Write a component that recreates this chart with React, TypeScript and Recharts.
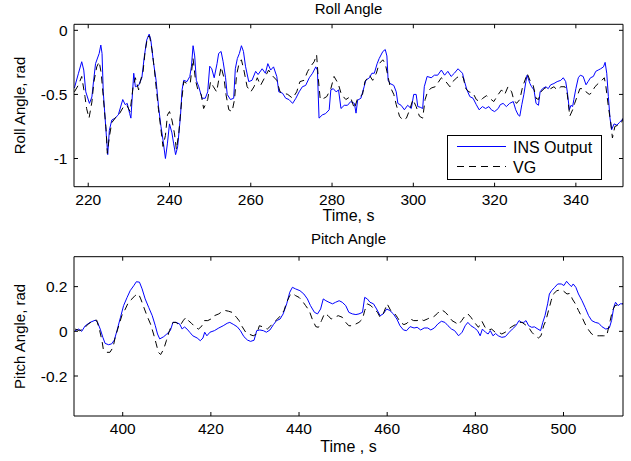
import { LineChart, Line, XAxis, YAxis, Legend } from 'recharts';

const FONT = "'Liberation Sans', Arial, Helvetica, sans-serif";
const INS_COLOR = '#0000ff';
const VG_COLOR = '#000000';

// Roll angle, INS output
const rollInsTime = [
  216.6, 217.6, 218.4, 218.9, 219.4, 220.3, 220.9, 221.3, 221.8, 222.7, 223.1, 223.4, 223.7, 224.3, 224.8,
  225.2, 225.8, 226.6, 227.4, 228.5, 229.1, 229.6, 230.2, 230.5, 231.2, 231.6, 232.4, 233.2, 233.8, 234.4,
  235.0, 235.4, 236.1, 236.7, 237.3, 237.9, 238.4, 239.0, 239.5, 240.0, 240.6, 241.0, 241.5, 242.0, 242.7,
  243.1, 243.5, 244.3, 245.0, 245.4, 245.8, 246.2, 246.6, 247.2, 248.0, 248.8, 249.4, 249.9, 250.4, 251.0,
  251.7, 252.1, 252.7, 253.2, 253.8, 254.2, 255.0, 255.8, 256.2, 256.7, 257.2, 257.7, 258.2, 258.7, 259.5,
  260.3, 261.2, 261.8, 262.8, 263.6, 264.2, 264.9, 265.6, 266.4, 266.9, 267.8, 268.6, 269.4, 270.3, 271.1,
  271.9, 272.7, 273.5, 274.4, 275.2, 276.0, 276.4, 276.8, 277.6, 278.4, 279.3, 279.7, 280.3, 281.0, 281.6,
  282.2, 283.0, 283.8, 284.6, 285.5, 285.9, 286.3, 287.1, 287.9, 288.3, 289.2, 289.8, 290.4, 291.1, 291.6,
  292.5, 293.1, 293.5, 293.8, 294.3, 295.2, 295.8, 296.2, 297.0, 297.8, 298.6, 299.5, 300.1, 300.7, 301.1,
  301.7, 302.3, 302.7, 303.4, 304.4, 305.2, 306.0, 306.9, 307.7, 308.5, 309.3, 310.1, 311.0, 312.1, 312.6,
  313.2, 313.9, 314.7, 315.5, 316.2, 317.0, 317.8, 318.6, 319.2, 320.0, 320.9, 321.4, 322.1, 322.9, 323.7,
  324.6, 325.2, 325.8, 326.2, 326.7, 327.2, 327.7, 328.0, 328.7, 329.1, 329.7, 330.2, 330.8, 331.2, 331.8,
  332.6, 333.2, 333.8, 334.6, 335.4, 336.3, 336.9, 337.5, 337.9, 338.4, 338.8, 339.2, 339.5, 340.0, 340.6,
  341.1, 341.8, 342.5, 343.0, 343.6, 344.3, 344.9, 345.5, 346.1, 346.8, 347.2, 347.6, 348.0, 348.4, 348.8,
  349.4, 350.1, 350.7, 351.3, 351.7,
];
const rollInsAngle = [
  -0.45, -0.335, -0.245, -0.31, -0.48, -0.57, -0.52, -0.4, -0.26, -0.18, -0.115, -0.18, -0.48, -0.75, -0.97,
  -0.78, -0.7, -0.685, -0.66, -0.54, -0.58, -0.57, -0.65, -0.685, -0.335, -0.44, -0.43, -0.37, -0.205, -0.075,
  -0.03, -0.075, -0.26, -0.39, -0.595, -0.75, -0.855, -1.0, -0.88, -0.73, -0.8, -0.88, -0.97, -0.91, -0.67,
  -0.465, -0.39, -0.4, -0.36, -0.28, -0.12, -0.2, -0.39, -0.44, -0.53, -0.53, -0.48, -0.28, -0.3, -0.37,
  -0.26, -0.18, -0.165, -0.245, -0.37, -0.5, -0.54, -0.53, -0.3, -0.22, -0.18, -0.12, -0.165, -0.28, -0.4,
  -0.39, -0.32, -0.345, -0.3, -0.335, -0.26, -0.31, -0.285, -0.36, -0.48, -0.49, -0.53, -0.54, -0.57, -0.53,
  -0.48, -0.44, -0.43, -0.37, -0.335, -0.285, -0.31, -0.685, -0.66, -0.65, -0.62, -0.465, -0.455, -0.48, -0.465,
  -0.61, -0.585, -0.585, -0.556, -0.57, -0.646, -0.545, -0.53, -0.44, -0.39, -0.37, -0.335, -0.335, -0.26, -0.22,
  -0.165, -0.15, -0.2, -0.39, -0.415, -0.43, -0.48, -0.57, -0.585, -0.62, -0.585, -0.61, -0.5, -0.5, -0.595,
  -0.6, -0.61, -0.44, -0.36, -0.37, -0.35, -0.35, -0.31, -0.35, -0.32, -0.36, -0.335, -0.3, -0.335, -0.4,
  -0.465, -0.517, -0.53, -0.58, -0.62, -0.595, -0.61, -0.595, -0.62, -0.634, -0.61, -0.58, -0.57, -0.595, -0.57,
  -0.556, -0.62, -0.66, -0.67, -0.58, -0.5, -0.4, -0.35, -0.415, -0.44, -0.465, -0.57, -0.585, -0.48, -0.455,
  -0.44, -0.455, -0.425, -0.415, -0.4, -0.39, -0.37, -0.4, -0.48, -0.62, -0.585, -0.595, -0.54, -0.455, -0.37,
  -0.35, -0.36, -0.425, -0.4, -0.37, -0.36, -0.32, -0.31, -0.3, -0.285, -0.25, -0.335, -0.517, -0.685, -0.776,
  -0.73, -0.74, -0.72, -0.7, -0.685,
];

// Roll angle, VG reference
const rollVgTime = [
  216.6, 217.6, 218.4, 219.2, 219.6, 220.2, 220.9, 221.4, 222.1, 222.7, 223.2, 223.7, 224.4, 224.7, 225.2,
  225.8, 227.0, 227.7, 228.7, 229.5, 230.3, 231.0, 231.6, 232.4, 232.8, 233.5, 234.0, 234.6, 235.1, 235.7,
  236.3, 236.7, 237.3, 237.9, 238.4, 239.0, 239.5, 240.0, 240.6, 241.2, 241.7, 242.3, 242.7, 243.1, 243.5,
  244.3, 245.1, 245.8, 246.4, 247.0, 247.8, 248.4, 249.4, 250.1, 250.8, 251.6, 252.1, 252.7, 253.4, 253.9,
  254.6, 255.4, 256.0, 256.5, 257.1, 257.7, 258.3, 259.1, 260.0, 260.8, 261.6, 262.4, 263.4, 264.4, 265.2,
  266.4, 267.2, 268.1, 269.1, 270.3, 271.3, 272.1, 273.1, 274.0, 275.0, 275.6, 276.2, 276.6, 277.1, 278.0,
  278.7, 279.7, 280.5, 281.5, 282.3, 283.4, 284.5, 285.5, 286.3, 287.5, 288.1, 289.2, 290.0, 290.9, 291.6,
  292.5, 293.1, 293.7, 294.3, 295.2, 295.8, 296.6, 297.4, 298.3, 299.1, 299.9, 300.7, 301.5, 302.3, 302.9,
  303.5, 304.4, 305.4, 306.9, 308.0, 309.0, 309.7, 310.7, 311.6, 312.3, 312.9, 313.7, 314.7, 315.5, 316.3,
  317.1, 318.0, 318.8, 319.8, 320.9, 321.7, 322.5, 323.3, 324.2, 324.7, 325.4, 326.2, 326.9, 327.7, 328.0,
  328.7, 329.5, 330.2, 330.8, 331.4, 332.2, 333.0, 333.8, 334.6, 335.4, 336.3, 337.3, 337.9, 338.5, 339.2,
  339.7, 340.3, 341.0, 341.8, 342.5, 343.3, 343.8, 344.7, 345.5, 346.4, 347.0, 347.4, 348.0, 348.6, 349.0,
  349.6, 350.4, 351.2, 351.7,
];
const rollVgAngle = [
  -0.48, -0.426, -0.36, -0.517, -0.61, -0.685, -0.56, -0.4, -0.285, -0.245, -0.335, -0.517, -0.776, -0.96, -0.83,
  -0.72, -0.67, -0.65, -0.595, -0.585, -0.634, -0.45, -0.37, -0.465, -0.4, -0.32, -0.165, -0.05, -0.045, -0.153,
  -0.31, -0.44, -0.62, -0.776, -0.906, -0.82, -0.66, -0.634, -0.7, -0.8, -0.93, -0.8, -0.65, -0.517, -0.4,
  -0.415, -0.415, -0.22, -0.39, -0.465, -0.5, -0.61, -0.54, -0.4, -0.44, -0.48, -0.39, -0.285, -0.37, -0.5,
  -0.62, -0.634, -0.54, -0.35, -0.26, -0.23, -0.31, -0.44, -0.48, -0.44, -0.37, -0.43, -0.37, -0.31, -0.35,
  -0.39, -0.48, -0.49, -0.5, -0.53, -0.48, -0.4, -0.39, -0.32, -0.27, -0.245, -0.19, -0.37, -0.54, -0.53,
  -0.517, -0.455, -0.36, -0.415, -0.5, -0.54, -0.517, -0.61, -0.53, -0.5, -0.4, -0.35, -0.39, -0.335, -0.26,
  -0.23, -0.26, -0.35, -0.44, -0.5, -0.58, -0.67, -0.7, -0.685, -0.62, -0.54, -0.595, -0.67, -0.685, -0.54,
  -0.48, -0.45, -0.44, -0.37, -0.4, -0.44, -0.4, -0.37, -0.35, -0.37, -0.455, -0.48, -0.49, -0.54, -0.556,
  -0.53, -0.51, -0.53, -0.556, -0.5, -0.465, -0.5, -0.44, -0.48, -0.54, -0.57, -0.54, -0.44, -0.37, -0.335,
  -0.39, -0.43, -0.53, -0.54, -0.48, -0.455, -0.44, -0.455, -0.44, -0.465, -0.44, -0.44, -0.5, -0.67, -0.62,
  -0.57, -0.517, -0.455, -0.455, -0.48, -0.5, -0.49, -0.44, -0.415, -0.39, -0.37, -0.44, -0.595, -0.724, -0.84,
  -0.75, -0.74, -0.72, -0.685,
];

// Pitch angle, INS output
const pitchInsTime = [
  389.2, 390.0, 390.7, 391.5, 392.6, 393.8, 394.3, 394.9, 395.5, 396.0, 396.8, 397.5, 398.1, 398.7, 399.5,
  400.2, 401.0, 401.7, 402.5, 403.1, 403.8, 404.4, 405.1, 405.9, 406.7, 407.4, 407.9, 408.4, 409.3, 410.0,
  410.8, 411.4, 412.1, 412.9, 413.5, 414.0, 414.6, 415.2, 415.9, 416.9, 417.6, 418.2, 418.6, 419.1, 419.8,
  420.8, 421.8, 422.8, 423.7, 424.3, 425.2, 426.0, 426.7, 427.5, 428.3, 429.0, 429.8, 430.4, 431.1, 431.9,
  432.6, 433.4, 434.2, 434.9, 435.7, 436.4, 437.2, 437.9, 438.5, 439.2, 440.2, 441.1, 441.9, 442.6, 443.5,
  444.2, 444.9, 445.5, 446.1, 446.8, 447.6, 448.3, 449.1, 449.8, 450.6, 451.3, 452.1, 452.9, 453.6, 454.4,
  454.9, 455.5, 456.1, 456.9, 457.6, 458.4, 459.1, 459.9, 460.6, 461.4, 462.2, 462.9, 463.7, 464.4, 465.2,
  466.1, 466.8, 467.6, 468.4, 469.2, 469.9, 470.7, 471.5, 472.3, 473.1, 473.8, 474.6, 475.3, 476.2, 477.0,
  477.7, 478.3, 479.0, 479.8, 480.5, 481.1, 481.6, 482.3, 482.9, 483.4, 484.0, 484.6, 485.2, 486.0, 486.8,
  487.7, 488.4, 489.2, 489.9, 490.5, 491.0, 491.5, 492.1, 492.8, 493.4, 494.2, 494.8, 495.3, 495.8, 496.4,
  496.8, 497.3, 498.0, 498.7, 499.5, 500.1, 500.7, 501.2, 501.8, 502.2, 502.8, 503.4, 504.2, 504.9, 505.7,
  506.4, 507.2, 508.0, 508.7, 509.6, 510.4, 510.9, 511.4, 511.8, 512.4, 512.9, 513.5,
];
const pitchInsAngle = [
  0.003, 0.01, 0.0, 0.025, 0.04, 0.05, 0.04, 0.01, -0.027, -0.054, -0.06, -0.056, -0.039, 0.003, 0.063,
  0.115, 0.152, 0.182, 0.204, 0.222, 0.22, 0.19, 0.145, 0.107, 0.07, 0.025, -0.012, -0.034, -0.024, -0.012,
  0.003, 0.04, 0.04, 0.033, 0.01, 0.02, 0.01, -0.004, -0.02, -0.03, -0.042, -0.03, -0.004, -0.02, -0.004,
  0.003, 0.015, 0.025, 0.036, 0.04, 0.03, 0.02, 0.003, -0.024, -0.039, -0.045, -0.04, 0.003, 0.006, 0.003,
  -0.004, 0.006, 0.03, 0.048, 0.055, 0.078, 0.123, 0.175, 0.197, 0.19, 0.182, 0.167, 0.145, 0.115, 0.085,
  0.078, 0.1, 0.145, 0.137, 0.13, 0.123, 0.13, 0.137, 0.13, 0.115, 0.085, 0.078, 0.075, 0.078, 0.085,
  0.152, 0.145, 0.13, 0.123, 0.1, 0.07, 0.078, 0.1, 0.093, 0.078, 0.055, 0.025, 0.006, 0.003, 0.021,
  0.015, 0.018, 0.006, 0.015, 0.015, 0.006, 0.015, 0.033, 0.045, 0.04, 0.025, 0.01, 0.003, -0.02, -0.004,
  0.025, 0.04, 0.025, 0.015, 0.003, -0.02, 0.01, -0.004, -0.012, 0.003, -0.02, -0.01, -0.02, -0.027, -0.024,
  -0.004, 0.01, 0.025, 0.048, 0.04, 0.04, 0.048, 0.025, 0.018, 0.02, 0.01, 0.003, 0.04, 0.07, 0.123,
  0.167, 0.182, 0.197, 0.212, 0.212, 0.205, 0.224, 0.212, 0.2, 0.212, 0.197, 0.167, 0.137, 0.107, 0.07,
  0.048, 0.04, 0.036, 0.021, 0.01, 0.015, 0.048, 0.107, 0.13, 0.115, 0.123, 0.123,
];

// Pitch angle, VG reference
const pitchVgTime = [
  389.2, 390.2, 391.1, 392.2, 393.4, 394.1, 394.7, 395.3, 395.6, 396.4, 397.1, 397.8, 398.3, 399.1, 399.8,
  400.6, 401.3, 402.1, 402.8, 403.6, 404.1, 404.8, 405.5, 406.3, 407.0, 407.6, 408.1, 408.6, 409.3, 409.9,
  410.6, 411.4, 412.1, 413.0, 413.8, 414.4, 414.9, 415.6, 416.5, 417.2, 418.0, 418.5, 419.3, 420.0, 420.8,
  421.8, 422.5, 423.3, 424.0, 424.8, 425.8, 426.4, 427.1, 427.9, 428.6, 429.6, 430.4, 431.0, 432.1, 432.8,
  433.6, 434.3, 435.1, 435.8, 436.6, 437.2, 437.9, 438.5, 439.2, 440.0, 440.7, 441.5, 442.3, 443.0, 443.8,
  444.4, 445.1, 445.8, 446.6, 447.3, 448.1, 448.9, 449.8, 450.6, 451.3, 452.1, 452.9, 453.6, 454.4, 454.9,
  455.5, 456.3, 457.0, 457.8, 458.4, 459.1, 460.0, 460.8, 461.5, 462.3, 463.0, 463.8, 464.5, 465.3, 466.0,
  466.8, 467.6, 468.3, 469.1, 469.9, 470.6, 471.4, 472.0, 472.4, 473.2, 473.9, 474.7, 475.4, 476.2, 476.9,
  477.7, 478.3, 479.0, 479.8, 480.7, 481.5, 482.2, 483.0, 483.7, 484.5, 485.3, 486.0, 486.8, 487.5, 488.3,
  489.1, 489.8, 490.6, 491.3, 492.1, 492.8, 493.6, 494.3, 494.9, 495.5, 496.0, 496.6, 497.2, 497.7, 498.5,
  499.2, 500.0, 500.8, 501.5, 502.0, 502.7, 503.4, 504.2, 504.9, 505.7, 506.4, 507.2, 508.1, 509.1, 509.8,
  510.6, 511.1, 511.7, 512.5, 513.2, 513.6,
];
const pitchVgAngle = [
  0.01, 0.003, 0.01, 0.033, 0.048, 0.05, 0.01, -0.042, -0.08, -0.094, -0.094, -0.072, -0.027, 0.025, 0.07,
  0.1, 0.13, 0.145, 0.16, 0.167, 0.145, 0.107, 0.07, 0.033, -0.012, -0.056, -0.094, -0.104, -0.08, -0.042,
  0.003, 0.04, 0.04, 0.025, 0.05, 0.063, 0.048, 0.036, 0.018, 0.01, 0.025, 0.048, 0.048, 0.055, 0.07,
  0.078, 0.088, 0.093, 0.09, 0.085, 0.063, 0.048, 0.021, -0.004, -0.012, -0.02, -0.012, 0.025, 0.018, 0.01,
  0.025, 0.04, 0.055, 0.07, 0.093, 0.13, 0.16, 0.17, 0.16, 0.152, 0.137, 0.115, 0.093, 0.055, 0.021,
  0.018, 0.048, 0.08, 0.07, 0.055, 0.063, 0.07, 0.063, 0.04, 0.025, 0.025, 0.033, 0.04, 0.055, 0.093,
  0.123, 0.115, 0.1, 0.085, 0.063, 0.078, 0.123, 0.093, 0.085, 0.063, 0.04, 0.03, 0.036, 0.055, 0.048,
  0.048, 0.055, 0.048, 0.055, 0.063, 0.066, 0.08, 0.093, 0.096, 0.085, 0.07, 0.048, 0.04, 0.03, 0.048,
  0.07, 0.078, 0.063, 0.04, 0.018, 0.045, 0.018, 0.006, 0.01, -0.004, -0.004, -0.012, -0.004, 0.01, 0.021,
  0.03, 0.04, 0.04, 0.03, 0.018, -0.004, -0.02, -0.03, -0.02, 0.025, 0.048, 0.093, 0.137, 0.167, 0.182,
  0.185, 0.18, 0.167, 0.17, 0.145, 0.123, 0.093, 0.063, 0.033, 0.006, -0.012, -0.02, -0.02, -0.02, -0.02,
  0.048, 0.093, 0.115, 0.12, 0.123, 0.123,
];

const rollTicksX = [220, 240, 260, 280, 300, 320, 340];
const rollTicksY = [-1, -0.5, 0];
const pitchTicksX = [400, 420, 440, 460, 480, 500];
const pitchTicksY = [-0.2, 0, 0.2];

const zip = (t: number[], v: number[]) => t.map((x, i) => ({ t: x, v: v[i] }));

const tickStyle = { fill: '#000', fontSize: 15.5, fontFamily: FONT };
const lineStroke = { stroke: '#000', strokeWidth: 1 };
const blank = () => '';

function LegendBox(props: any) {
  const items = props.payload || [];
  return (
    <svg width={156} height={46} style={{ display: 'block' }}>
      <rect x={0.5} y={0.5} width={154} height={44} fill="#fff" stroke="#000" />
      {items.map((item: any, i: number) => (
        <g key={item.value}>
          <line
            x1={10}
            x2={59}
            y1={11.5 + i * 20}
            y2={11.5 + i * 20}
            stroke={item.color}
            strokeDasharray={item.payload?.strokeDasharray}
          />
          <text x={66} y={18.3 + i * 19.3} fontSize={16} fontFamily={FONT} fill="#000">
            {item.value}
          </text>
        </g>
      ))}
    </svg>
  );
}

interface PanelProps {
  height: number;
  top: number;
  plotTop: number;
  plotBottom: number;
  xAxisHeight: number;
  title: string;
  titleGap: number;
  xLabel: string;
  yLabel: string;
  xDomain: [number, number];
  yDomain: [number, number];
  xTicks: number[];
  yTicks: number[];
  ins: { t: number; v: number }[];
  vg: { t: number; v: number }[];
  legend?: boolean;
}

function AnglePanel(p: PanelProps) {
  const bottomMargin = p.height - p.plotBottom - p.xAxisHeight;
  return (
    <div style={{ position: 'absolute', left: 0, top: p.top }}>
      <LineChart
        width={631}
        height={p.height}
        margin={{ top: p.plotTop - 1, right: 7, bottom: bottomMargin, left: 0 }}
      >
        <XAxis
          dataKey="t"
          type="number"
          domain={p.xDomain}
          ticks={p.xTicks}
          allowDataOverflow
          interval={0}
          height={p.xAxisHeight}
          tickSize={-4}
          tickMargin={11}
          tick={tickStyle}
          axisLine={lineStroke}
          tickLine={lineStroke}
          label={{
            value: p.xLabel,
            position: 'insideBottom',
            offset: 0,
            style: { fill: '#000', fontSize: 16, fontFamily: FONT },
          }}
        />
        <XAxis
          xAxisId="top"
          orientation="top"
          dataKey="t"
          type="number"
          domain={p.xDomain}
          ticks={p.xTicks}
          allowDataOverflow
          interval={0}
          height={1}
          tickSize={-4}
          tickFormatter={blank}
          axisLine={lineStroke}
          tickLine={lineStroke}
          label={{
            value: p.title,
            position: 'top',
            offset: p.titleGap,
            style: { fill: '#000', fontSize: 15, fontFamily: FONT },
          }}
        />
        <YAxis
          type="number"
          domain={p.yDomain}
          ticks={p.yTicks}
          allowDataOverflow
          interval={0}
          width={74}
          tickSize={-4}
          tickMargin={10.5}
          tick={tickStyle}
          axisLine={lineStroke}
          tickLine={lineStroke}
          label={{
            value: p.yLabel,
            angle: -90,
            position: 'insideLeft',
            offset: 20,
            style: { textAnchor: 'middle', fill: '#000', fontSize: 15, fontFamily: FONT },
          }}
        />
        <YAxis
          yAxisId="right"
          orientation="right"
          type="number"
          domain={p.yDomain}
          ticks={p.yTicks}
          allowDataOverflow
          interval={0}
          width={1}
          tickSize={-4}
          tickFormatter={blank}
          axisLine={lineStroke}
          tickLine={lineStroke}
        />
        <Line
          data={p.ins}
          dataKey="v"
          name="INS Output"
          type="linear"
          stroke={INS_COLOR}
          strokeWidth={1}
          dot={false}
          activeDot={false}
          isAnimationActive={false}
        />
        <Line
          data={p.vg}
          dataKey="v"
          name="VG"
          type="linear"
          stroke={VG_COLOR}
          strokeWidth={1}
          strokeDasharray="7 5"
          dot={false}
          activeDot={false}
          isAnimationActive={false}
        />
        {p.legend && (
          <Legend
            layout="horizontal"
            verticalAlign="middle"
            align="center"
            content={LegendBox}
            wrapperStyle={{ left: 447, top: 135, width: 156, height: 46 }}
          />
        )}
      </LineChart>
    </div>
  );
}

export default function App() {
  return (
    <div
      style={{
        position: 'absolute',
        left: 0,
        top: 0,
        width: 631,
        height: 461,
        background: '#fff',
        overflow: 'hidden',
      }}
    >
      <AnglePanel
        height={230}
        top={0}
        plotTop={24.3}
        plotBottom={186.7}
        xAxisHeight={34}
        title="Roll Angle"
        titleGap={9.8}
        xLabel="Time, s"
        yLabel="Roll Angle, rad"
        xDomain={[216.5, 351.6]}
        yDomain={[-1.22, 0.047]}
        xTicks={rollTicksX}
        yTicks={rollTicksY}
        ins={zip(rollInsTime, rollInsAngle)}
        vg={zip(rollVgTime, rollVgAngle)}
        legend
      />
      <AnglePanel
        height={231}
        top={230}
        plotTop={26.7}
        plotBottom={186}
        xAxisHeight={36.4}
        title="Pitch Angle"
        titleGap={11.7}
        xLabel="Time , s"
        yLabel="Pitch Angle, rad"
        xDomain={[388.95, 513.5]}
        yDomain={[-0.379, 0.334]}
        xTicks={pitchTicksX}
        yTicks={pitchTicksY}
        ins={zip(pitchInsTime, pitchInsAngle)}
        vg={zip(pitchVgTime, pitchVgAngle)}
      />
    </div>
  );
}
